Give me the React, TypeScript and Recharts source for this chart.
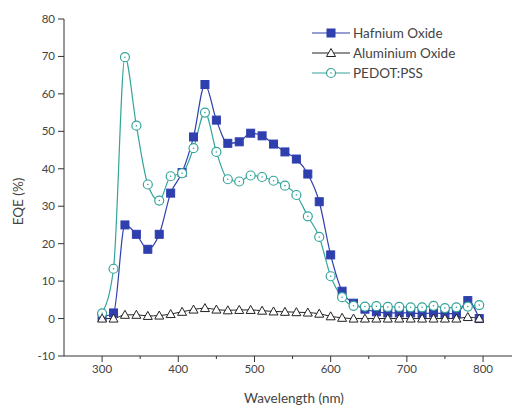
import React from 'react';
import { LineChart, Line, XAxis, YAxis, Label } from 'recharts';

const wavelength = [
  300, 315, 330, 345, 360, 375, 390, 405, 420, 435, 450, 465, 480, 495, 510, 525, 540,
  555, 570, 585, 600, 615, 630, 645, 660, 675, 690, 705, 720, 735, 750, 765, 780, 795,
];

const hafniumOxide = [
  0.5, 1.5, 25, 22.5, 18.5, 22.5, 33.5, 39, 48.5, 62.5, 53, 46.8, 47.2, 49.5, 48.8, 46.6, 44.5,
  42.6, 38.6, 31.2, 17, 7.3, 4.1, 2.5, 1.8, 1.5, 1.5, 1.5, 1.3, 1.5, 1.3, 1.3, 4.8, 0,
];

const aluminiumOxide = [
  0, 0, 1.0, 1.0, 0.7, 0.8, 1.2, 1.8, 2.4, 2.8, 2.4, 2.2, 2.3, 2.3, 2.1, 1.9, 1.8,
  1.7, 1.6, 1.3, 0.6, 0.2, 0, 0, 0, 0, 0, 0, 0, 0, 0, 0, 0.4, 0,
];

const pedotPss = [
  1.4, 13.3, 69.8, 51.5, 35.8, 31.5, 38, 38.8, 45.5, 55, 44.5, 37.2, 36.6, 38.2, 37.8, 36.8, 35.5,
  33, 27.3, 21.8, 11.3, 5.7, 3.4, 3.2, 3.3, 3.1, 3.1, 3.0, 3.0, 3.4, 2.8, 3.0, 3.2, 3.6,
];

const xTicks = [300, 350, 400, 450, 500, 550, 600, 650, 700, 750, 800];
const yTicks = [-10, -5, 0, 5, 10, 15, 20, 25, 30, 35, 40, 45, 50, 55, 60, 65, 70, 75, 80];

const data = wavelength.map((w, i) => ({
  w,
  hf: hafniumOxide[i],
  al: aluminiumOxide[i],
  pedot: pedotPss[i],
}));

const HF_COLOR = '#2f3fae';
const PEDOT_COLOR = '#33a59a';
const AXIS_COLOR = '#333333';
const TEXT_COLOR = '#444444';
const FONT = 'Lato, "Open Sans", sans-serif';

const SquareDot = (props: any) => {
  const { cx, cy } = props;
  if (cx == null || cy == null) return null;
  return <rect x={cx - 4} y={cy - 4} width={8} height={8} fill={HF_COLOR} stroke={HF_COLOR} strokeWidth={1} />;
};

const TriangleDot = (props: any) => {
  const { cx, cy } = props;
  if (cx == null || cy == null) return null;
  return (
    <path
      d={`M ${cx} ${cy - 4.5} L ${cx + 4.5} ${cy + 3.5} L ${cx - 4.5} ${cy + 3.5} Z`}
      fill="#ffffff"
      stroke="#222222"
      strokeWidth={1}
    />
  );
};

const CircleDot = (props: any) => {
  const { cx, cy } = props;
  if (cx == null || cy == null) return null;
  return (
    <g>
      <circle cx={cx} cy={cy} r={4.5} fill="#ffffff" stroke={PEDOT_COLOR} strokeWidth={1.2} />
      <circle cx={cx} cy={cy} r={0.8} fill={PEDOT_COLOR} />
    </g>
  );
};

const YTick = (props: any) => {
  const { x, y, payload } = props;
  const major = payload.value % 10 === 0;
  return (
    <g>
      <line x1={x} y1={y} x2={x - (major ? 6 : 3)} y2={y} stroke={AXIS_COLOR} strokeWidth={1} />
      {major && (
        <text x={x - 9} y={y} dy={4} textAnchor="end" fill={TEXT_COLOR} fontSize={11.5} fontFamily={FONT}>
          {payload.value}
        </text>
      )}
    </g>
  );
};

const XTick = (props: any) => {
  const { x, y, payload } = props;
  const major = payload.value % 100 === 0;
  return (
    <g>
      <line x1={x} y1={y} x2={x} y2={y + (major ? 6 : 3)} stroke={AXIS_COLOR} strokeWidth={1} />
      {major && (
        <text x={x} y={y + 17} textAnchor="middle" fill={TEXT_COLOR} fontSize={11.5} fontFamily={FONT}>
          {payload.value}
        </text>
      )}
    </g>
  );
};

// y title, rotated, a bit below the middle of the axis like the original
const YTitle = (props: any) => {
  const { viewBox } = props;
  if (!viewBox) return null;
  const cx = viewBox.x + 18;
  const cy = viewBox.y + viewBox.height / 2 + 14;
  return (
    <text
      x={cx}
      y={cy}
      transform={`rotate(-90, ${cx}, ${cy})`}
      textAnchor="middle"
      dominantBaseline="central"
      fill={TEXT_COLOR}
      fontSize={13.5}
      fontFamily={FONT}
    >
      EQE (%)
    </text>
  );
};

const legendItems = [
  { name: 'Hafnium Oxide', color: HF_COLOR, Dot: SquareDot },
  { name: 'Aluminium Oxide', color: '#222222', Dot: TriangleDot },
  { name: 'PEDOT:PSS', color: PEDOT_COLOR, Dot: CircleDot },
];

// legend sits as its own box over the chart so it does not eat plot space
const ChartLegend = () => (
  <div style={{ position: 'absolute', left: 312, top: 23, fontFamily: FONT, fontSize: 13.5, color: TEXT_COLOR }}>
    {legendItems.map(({ name, color, Dot }) => (
      <div key={name} style={{ display: 'flex', alignItems: 'center', height: 20 }}>
        <svg width={38} height={12} style={{ marginRight: 3 }}>
          <line x1={0} y1={6} x2={38} y2={6} stroke={color} strokeWidth={1.2} />
          <Dot cx={19} cy={6} />
        </svg>
        <span>{name}</span>
      </div>
    ))}
  </div>
);

export default function App() {
  return (
    <div style={{ position: 'absolute', left: 0, top: 0, width: 512, height: 409, background: '#ffffff' }}>
      <LineChart width={512} height={409} data={data} margin={{ top: 19, right: 0, bottom: 0, left: 0 }}>
        <XAxis
          dataKey="w"
          type="number"
          domain={[250, 838]}
          ticks={xTicks}
          allowDataOverflow
          height={53}
          stroke={AXIS_COLOR}
          tickLine={false}
          tickSize={0}
          tickMargin={0}
          tick={<XTick />}
        >
          <Label value="Wavelength (nm)" position="insideBottom" offset={6} dx={6} fill={TEXT_COLOR} fontSize={13.5} fontFamily={FONT} />
        </XAxis>
        <YAxis
          type="number"
          domain={[-10, 80]}
          ticks={yTicks}
          width={64}
          stroke={AXIS_COLOR}
          tickLine={false}
          tickSize={0}
          tickMargin={0}
          tick={<YTick />}
        >
          <Label content={<YTitle />} />
        </YAxis>
        <Line type="monotone" dataKey="hf" name="Hafnium Oxide" stroke={HF_COLOR} strokeWidth={1.2} dot={<SquareDot />} activeDot={false} isAnimationActive={false} />
        <Line type="monotone" dataKey="pedot" name="PEDOT:PSS" stroke={PEDOT_COLOR} strokeWidth={1.2} dot={<CircleDot />} activeDot={false} isAnimationActive={false} />
        <Line type="monotone" dataKey="al" name="Aluminium Oxide" stroke="#222222" strokeWidth={1} dot={<TriangleDot />} activeDot={false} isAnimationActive={false} />
      </LineChart>
      <ChartLegend />
    </div>
  );
}
